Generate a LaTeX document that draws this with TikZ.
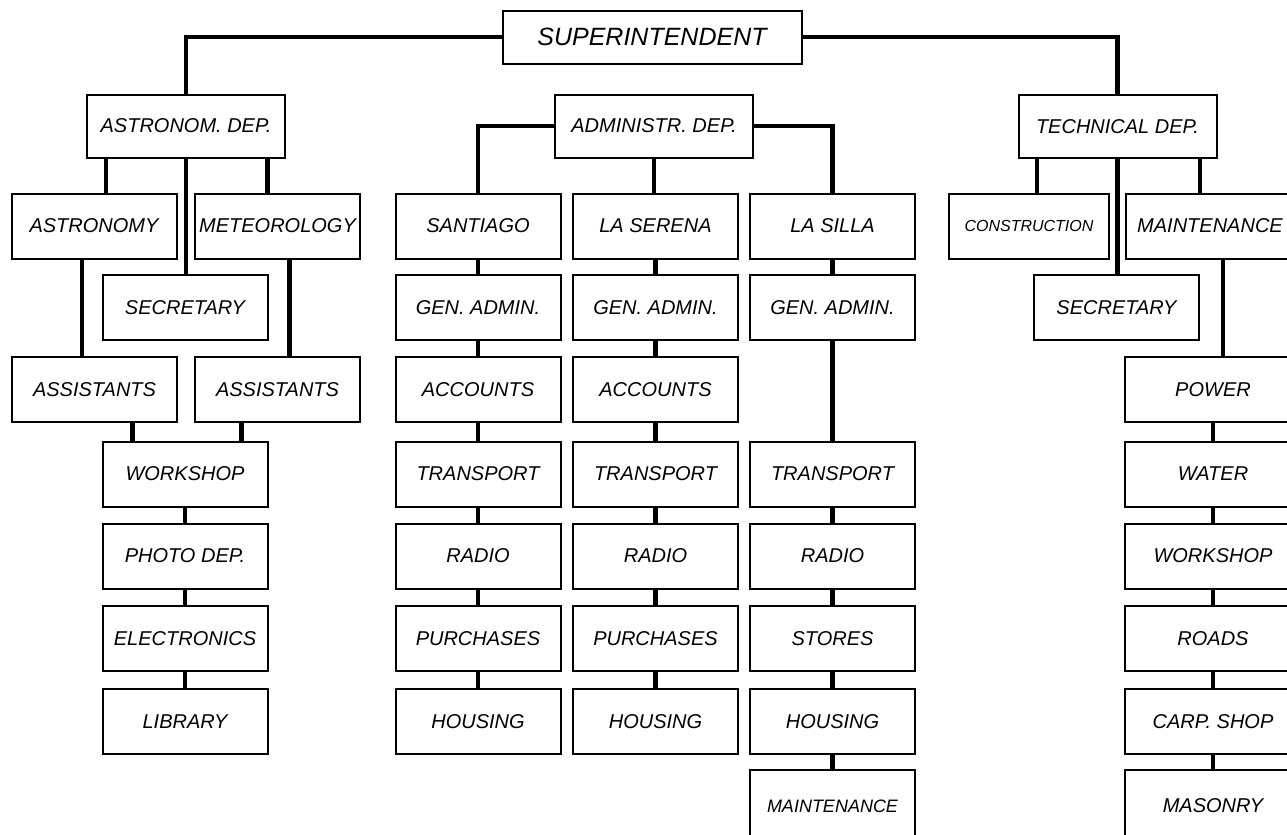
\documentclass[tikz,border=0pt]{standalone}
\usepackage{fontspec}
\setmainfont{Liberation Sans}

\begin{document}
\begin{tikzpicture}[x=0.5pt,y=-0.5pt,
  box/.style={draw, line width=1pt, inner sep=0pt, minimum width=82.5pt, minimum height=32.5pt, font=\itshape\fontsize{10}{12}\selectfont},
  dep/.style={box, minimum width=99pt, minimum height=31.5pt},
  link/.style={line width=2.2pt}]
\useasboundingbox (0,0) rectangle (1287,835);
% top level
\node[box, minimum width=149.5pt, minimum height=26.5pt, font=\itshape\fontsize{12.5}{15}\selectfont] (sup) at (652,37) {SUPERINTENDENT};
\node[dep] (astro) at (186,126) {ASTRONOM. DEP.};
\node[dep] (admin) at (654,126) {ADMINISTR. DEP.};
\node[dep] (tech) at (1117.5,126.5) {TECHNICAL DEP.};
\draw[link] (sup.west) -| (astro.north);
\draw[link] (sup.east) -| (tech.north);
% astronomy
\node[box] (astrony) at (94,226) {ASTRONOMY};
\node[box] (meteo) at (277.5,226) {METEOROLOGY};
\node[box] (secl) at (185,307.5) {SECRETARY};
\node[box] (assl) at (94.5,389.5) {ASSISTANTS};
\node[box] (assr) at (277.5,389.5) {ASSISTANTS};
\node[box] (wshl) at (185,474) {WORKSHOP};
\node[box] (photo) at (185,556) {PHOTO DEP.};
\node[box] (electr) at (185,638.5) {ELECTRONICS};
\node[box] (libr) at (185,721.5) {LIBRARY};
\draw[link] ([xshift=6pt]astrony.north |- astro.south) -- ([xshift=6pt]astrony.north);
\draw[link] (astro.south) -- (astro.south |- secl.north);
\draw[link] ([xshift=-5pt]meteo.north |- astro.south) -- ([xshift=-5pt]meteo.north);
\draw[link] ([xshift=-6pt]astrony.south) -- ([xshift=-6pt]astrony.south |- assl.north);
\draw[link] ([xshift=6pt]meteo.south) -- ([xshift=6pt]meteo.south |- assr.north);
\draw[link] ([xshift=19pt]assl.south) -- ([xshift=19pt]assl.south |- wshl.north);
\draw[link] ([xshift=-18pt]assr.south) -- ([xshift=-18pt]assr.south |- wshl.north);
\draw[link] (wshl) -- (photo);
\draw[link] (photo) -- (electr);
\draw[link] (electr) -- (libr);
% administration
\node[box] (sant) at (478,226) {SANTIAGO};
\node[box] (sgen) at (478,307.5) {GEN. ADMIN.};
\node[box] (sacc) at (478,389.5) {ACCOUNTS};
\node[box] (strn) at (478,474) {TRANSPORT};
\node[box] (srad) at (478,556) {RADIO};
\node[box] (spur) at (478,638.5) {PURCHASES};
\node[box] (shou) at (478,721.5) {HOUSING};
\node[box] (lser) at (655.5,226) {LA SERENA};
\node[box] (lgen) at (655.5,307.5) {GEN. ADMIN.};
\node[box] (lacc) at (655.5,389.5) {ACCOUNTS};
\node[box] (ltrn) at (655.5,474) {TRANSPORT};
\node[box] (lrad) at (655.5,556) {RADIO};
\node[box] (lpur) at (655.5,638.5) {PURCHASES};
\node[box] (lhou) at (655.5,721.5) {HOUSING};
\node[box] (lsil) at (832.5,226) {LA SILLA};
\node[box] (igen) at (832.5,307.5) {GEN. ADMIN.};
\node[box] (itrn) at (832.5,474) {TRANSPORT};
\node[box] (irad) at (832.5,556) {RADIO};
\node[box] (isto) at (832.5,638.5) {STORES};
\node[box] (ihou) at (832.5,721.5) {HOUSING};
\node[box, minimum height=36pt, font=\itshape\fontsize{9}{11}\selectfont] (imnt) at (832.5,806) {MAINTENANCE};
\draw[link] (admin.west) -| (sant.north);
\draw[link] (admin.south) -- (admin.south |- lser.north);
\draw[link] (admin.east) -| (lsil.north);
\draw[link] (sant) -- (sgen);
\draw[link] (sgen) -- (sacc);
\draw[link] (sacc) -- (strn);
\draw[link] (strn) -- (srad);
\draw[link] (srad) -- (spur);
\draw[link] (spur) -- (shou);
\draw[link] (lser) -- (lgen);
\draw[link] (lgen) -- (lacc);
\draw[link] (lacc) -- (ltrn);
\draw[link] (ltrn) -- (lrad);
\draw[link] (lrad) -- (lpur);
\draw[link] (lpur) -- (lhou);
\draw[link] (lsil) -- (igen);
\draw[link] (igen) -- (itrn);
\draw[link] (itrn) -- (irad);
\draw[link] (irad) -- (isto);
\draw[link] (isto) -- (ihou);
\draw[link] (ihou) -- (imnt);
% technical
\node[box, minimum width=80pt, font=\itshape\fontsize{8}{10}\selectfont] (constr) at (1029,226) {CONSTRUCTION};
\node[box] (sect) at (1116.5,307.5) {SECRETARY};
\node[box, minimum width=84pt] (maint) at (1210,226) {MAINTENANCE};
\node[box, minimum width=88pt] (power) at (1213,389.5) {POWER};
\node[box, minimum width=88pt] (water) at (1213,474) {WATER};
\node[box, minimum width=88pt] (wsht) at (1213,556) {WORKSHOP};
\node[box, minimum width=88pt] (roads) at (1213,638.5) {ROADS};
\node[box, minimum width=88pt] (carp) at (1213,721.5) {CARP. SHOP};
\node[box, minimum width=88pt, minimum height=36pt] (mason) at (1213,806) {MASONRY};
\draw[link] ([xshift=4pt]constr.north |- tech.south) -- ([xshift=4pt]constr.north);
\draw[link] (tech.south) -- (tech.south |- sect.north);
\draw[link] ([xshift=-5pt]maint.north |- tech.south) -- ([xshift=-5pt]maint.north);
\draw[link] ([xshift=6.5pt]maint.south) -- ([xshift=6.5pt]maint.south |- power.north);
\draw[link] (power) -- (water);
\draw[link] (water) -- (wsht);
\draw[link] (wsht) -- (roads);
\draw[link] (roads) -- (carp);
\draw[link] (carp) -- (mason);
\end{tikzpicture}
\end{document}
